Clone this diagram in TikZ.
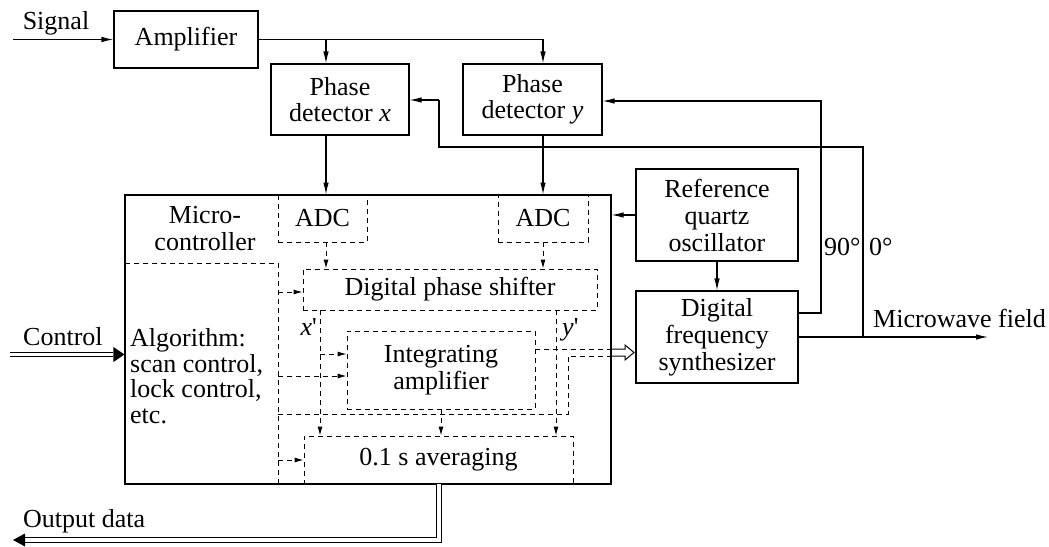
\documentclass[tikz,border=0pt]{standalone}
\usepackage{fontspec}
\setmainfont{Liberation Serif}
\usetikzlibrary{arrows.meta,calc}
\begin{document}
\begin{tikzpicture}[x=1pt,y=-1pt,
  font=\fontsize{26pt}{27pt}\selectfont,
  box/.style={draw, line width=1.1pt, inner sep=0pt, align=center},
  dbox/.style={draw, line width=0.9pt, dash pattern=on 5pt off 4pt, inner sep=0pt, align=center},
  lbl/.style={inner sep=0pt},
  arr/.style={line width=1.1pt, -{Latex[length=12pt,width=5.5pt]}},
  darr/.style={line width=0.9pt, dash pattern=on 5pt off 4pt, -{Latex[length=9pt,width=5pt]}},
  ln/.style={line width=1.1pt},
  dln/.style={line width=0.9pt, dash pattern=on 5pt off 4pt},
  dbl/.style={line width=1pt, double, double distance=3.6pt},
]
\useasboundingbox (0,0) rectangle (1049,546);

% main boxes
\node[box, minimum width=144pt, minimum height=57pt] (amp) at (186,39.5) {Amplifier};
\node[box, minimum width=138pt, minimum height=71pt, font=\fontsize{26pt}{29pt}\selectfont] (pdx) at (340,99.5) {\raisebox{-3pt}{Phase}\\detector \textit{x}};
\node[box, minimum width=139pt, minimum height=71pt, font=\fontsize{26pt}{29pt}\selectfont] (pdy) at (532.5,99.5) {\raisebox{-3pt}{Phase}\\detector \textit{y}};
\node[box, minimum width=486pt, minimum height=289pt] (micro) at (368,339.5) {};
\node[box, minimum width=162pt, minimum height=92pt] (ref) at (717,215) {Reference\\quartz\\oscillator};
\node[box, minimum width=162pt, minimum height=92pt] (synth) at (717,337) {Digital\\frequency\\synthesizer};

% inner dashed boxes
\node[dbox, minimum width=89pt, minimum height=47pt] (adcx) at (322.5,218.5) {ADC};
\node[dbox, minimum width=90pt, minimum height=47pt] (adcy) at (543,218.5) {ADC};
\node[dbox, minimum width=153pt, minimum height=221pt] (alg) at (201.5,373.5) {};
\node[dbox, minimum width=294pt, minimum height=41pt] (shift) at (450,289.5) {Digital phase shifter};
\node[dbox, minimum width=188pt, minimum height=78pt] (integ) at (441,370) {Integrating\\amplifier};
\node[dbox, minimum width=269pt, minimum height=48pt] (avg) at (438.5,460) {0.1 s averaging};

% texts
\node[lbl, anchor=base] (sig) at (56,29) {Signal};
\node[lbl, anchor=base west] (ctl) at (23,345) {Control};
\node[lbl, anchor=base west] (outd) at (23,527) {Output data};
\node[lbl, anchor=base west] (mw) at (873,327) {Microwave field};
\node[lbl, anchor=base west] (l90) at (824,255) {90°};
\node[lbl, anchor=base west] (l0) at (869,255) {0°};
\node[lbl, anchor=base east] (xp) at (317,335) {\textit{x}\textquotesingle};
\node[lbl, anchor=base west] (yp) at (562,335) {\textit{y}\textquotesingle};
\node[lbl, align=center] (mc) at (205,229) {Micro-\\controller};
\node[lbl, anchor=west, align=left, font=\fontsize{26pt}{25.5pt}\selectfont] (algt) at (130,376) {Algorithm:\\scan control,\\lock control,\\etc.};

% signal path
\coordinate (sigstart) at (13,39.5);
\draw[arr] (sigstart) -- (amp.west);
\coordinate (bx) at (326,39.5);
\coordinate (by) at (543,39.5);
\draw[arr] (amp.east) -- (by) -- (by |- pdy.north);
\draw[arr] (bx) -- (bx |- pdx.north);
\draw[arr] (bx |- pdx.south) -- (bx |- adcx.north);
\draw[arr] (by |- pdy.south) -- (by |- adcy.north);
\draw[darr] (bx |- adcx.south) -- (bx |- shift.north);
\draw[darr] (by |- adcy.south) -- (by |- shift.north);

% oscillator / synthesizer
\draw[arr] (ref.west) -- (ref.west -| micro.east);
\draw[arr] (ref.south) -- (synth.north);
\coordinate (n90) at (821,313);
\coordinate (t90) at (821,101);
\draw[arr] (synth.east |- n90) -- (n90) -- (t90) -- (t90 -| pdy.east);
\coordinate (n0) at (863,337);
\coordinate (t0) at (863,147);
\coordinate (k0) at (439,147);
\coordinate (kk) at (439,100);
\draw[ln] (n0) -- (t0) -- (k0) -- (kk);
\draw[arr] (kk) -- (kk -| pdx.east);
\coordinate (mwend) at (988,337);
\draw[arr] (synth.east) -- (mwend);

% control input
\coordinate (c0) at (10,354.5);
\draw[dbl, shorten >=11pt] (c0) -- (c0 -| micro.west);
\fill (c0 -| micro.west) -- ++(-11,-7.5) -- ++(0,15) -- cycle;

% output data
\coordinate (o1) at (439,484);
\coordinate (o2) at (439,540);
\coordinate (oend) at (13,540);
\draw[dbl, shorten >=11pt] (o1) -- (o2) -- (oend);
\fill (oend) -- ++(12,-6.5) -- ++(0,13) -- cycle;

% internal dashed connections
\draw[darr] (alg.east |- 0,292) -- (shift.west |- 0,292);
\draw[darr] (alg.east |- 0,376) -- (integ.west |- 0,376);
\draw[darr] (alg.east |- avg.west) -- (avg.west);
\coordinate (xq) at (320,354);
\draw[darr] (xq |- shift.south) -- (xq |- avg.north);
\draw[darr] (xq) -- (integ.west |- xq);
\coordinate (yq) at (556,354);
\draw[darr] (yq |- shift.south) -- (yq |- avg.north);
\draw[darr] (integ.south) -- (integ.south |- avg.north);

% hollow double arrow to synthesizer
\coordinate (hu) at (535,349);
\coordinate (hl) at (278,414);
\coordinate (hc) at (568,414);
\coordinate (hd) at (568,356);
\draw[dln] (hu) -- (hu -| micro.east);
\draw[dln] (hl) -- (hc) -- (hd) -- (hd -| micro.east);
\coordinate (tip) at (634,352.5);
\draw[ln, line width=1pt, line join=miter] (hu -| micro.east) -- (hu -| 625,0) -- (625,345) -- (tip) -- (625,360) -- (hd -| 625,0) -- (hd -| micro.east);
\end{tikzpicture}
\end{document}
